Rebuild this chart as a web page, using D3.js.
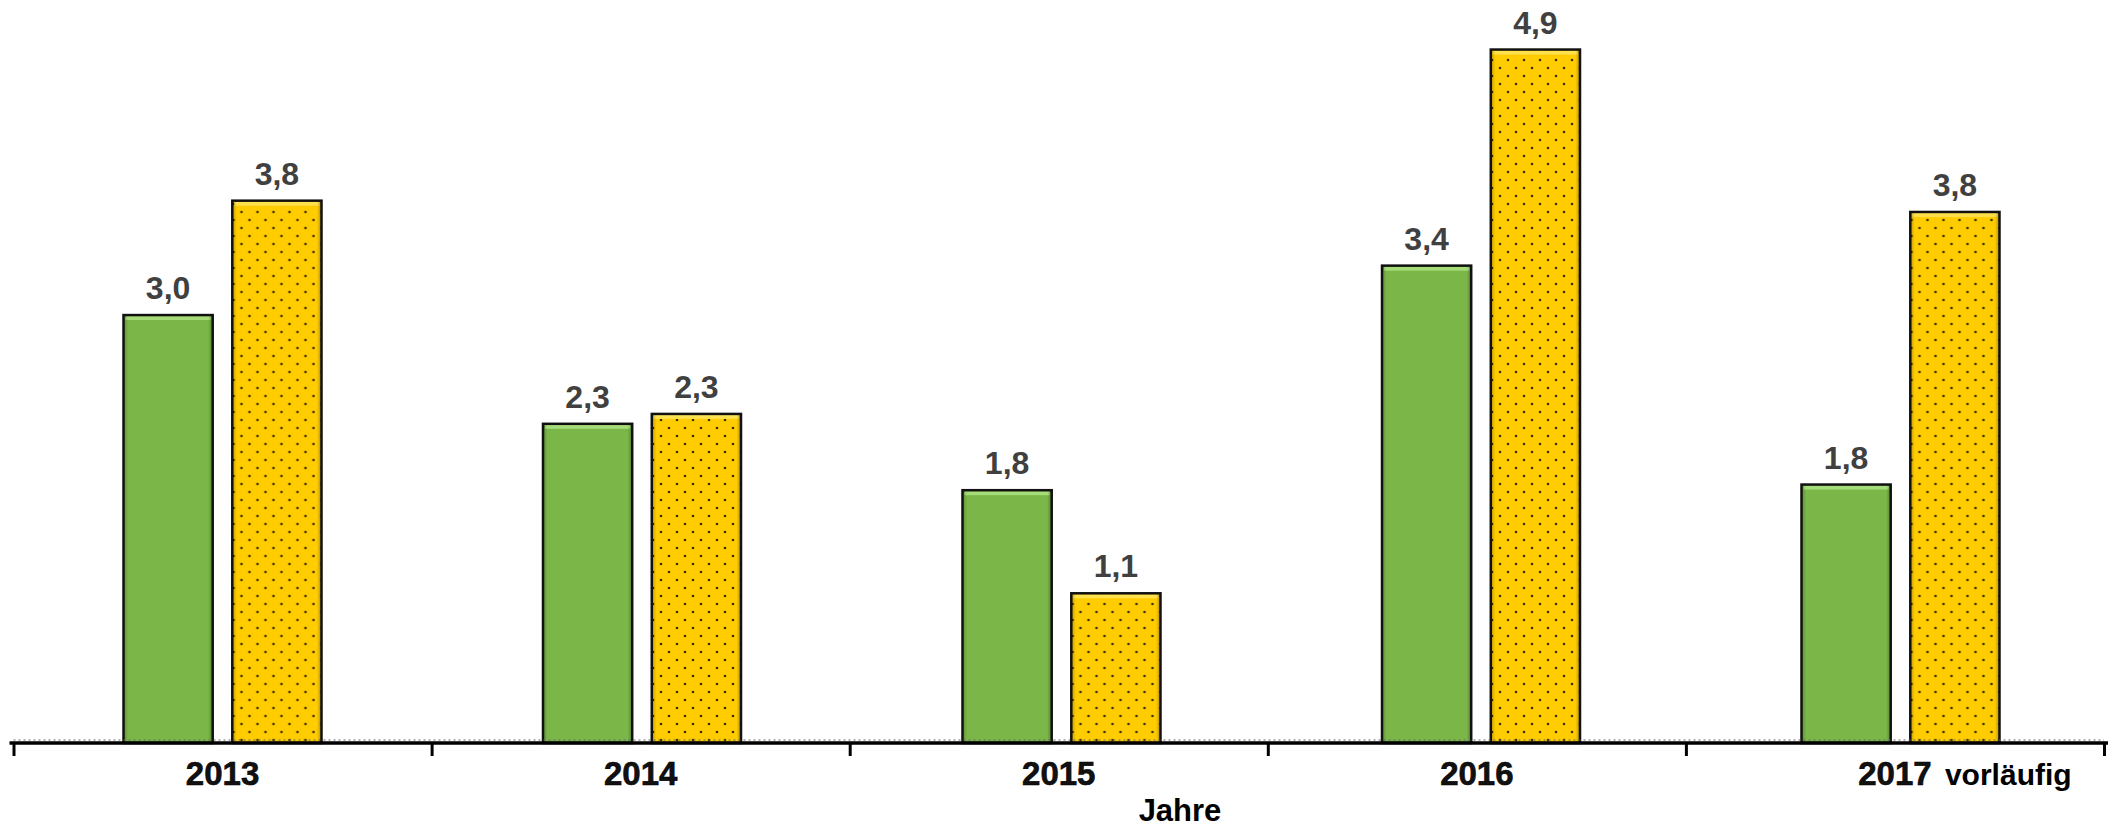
<!DOCTYPE html>
<html>
<head>
<meta charset="utf-8">
<script src="https://cdn.jsdelivr.net/npm/d3@7"></script>
<style>
  html, body { margin: 0; padding: 0; background: #fff; }
  svg { display: block; font-family: "Liberation Sans", Arial, sans-serif; }
</style>
</head>
<body>
<svg id="chart" width="2114" height="828"></svg>
<script>
// data
const years = ["2013", "2014", "2015", "2016", "2017"];
const yearNotes = ["", "", "", "", "vorläufig"];
const series = ["gruen", "gelb"];
const greenValues = [3.03, 2.26, 1.79, 3.38, 1.83];
const yellowValues = [3.84, 2.33, 1.06, 4.91, 3.76];
const axisTitle = "Jahre";

const width = 2114, height = 828;
const left = 13.5, right = 2104, baseY = 743;

const svg = d3.select("#chart");
const defs = svg.append("defs");

// dotted fill for the yellow bars
const pat = defs.append("pattern")
    .attr("id", "dots")
    .attr("patternUnits", "userSpaceOnUse")
    .attr("width", 16).attr("height", 16);
pat.append("rect").attr("width", 16).attr("height", 16).attr("fill", "#ffcc00");
pat.append("circle").attr("cx", 4).attr("cy", 4).attr("r", 1.3).attr("fill", "#3a3000");
pat.append("circle").attr("cx", 12).attr("cy", 12).attr("r", 1.3).attr("fill", "#3a3000");

// soft side shading for the bevel look
const sideGrad = defs.append("linearGradient").attr("id", "side")
    .attr("x1", "0").attr("x2", "1").attr("y1", "0").attr("y2", "0");
sideGrad.append("stop").attr("offset", "0").attr("stop-color", "#000").attr("stop-opacity", 0.25);
sideGrad.append("stop").attr("offset", "0.05").attr("stop-color", "#000").attr("stop-opacity", 0);
sideGrad.append("stop").attr("offset", "0.95").attr("stop-color", "#000").attr("stop-opacity", 0);
sideGrad.append("stop").attr("offset", "1").attr("stop-color", "#000").attr("stop-opacity", 0.3);

// category bands (axis) and a slightly wider band for the bars, as in the original
const x0 = d3.scaleBand().domain(years).range([left, right]).padding(0);
const xBars = d3.scaleBand().domain(years).range([left, left + 5 * 419.5]).padding(0);
const x1 = d3.scaleBand().domain(series).range([110, 308]).paddingInner(0.18);
const y = d3.scaleLinear().domain([0, 5.19]).range([baseY, 10]);

const fills = { gruen: "#7ab648", gelb: "url(#dots)" };
const highlights = { gruen: "#a6dc78", gelb: "#ffe14d" };

const rows = years.map((yr, i) => ({
    year: yr,
    bars: [
        { key: "gruen", value: greenValues[i] },
        { key: "gelb", value: yellowValues[i] }
    ]
}));

const fmt = v => d3.format(".1f")(v).replace(".", ",");

const groups = svg.append("g").selectAll("g")
    .data(rows)
    .join("g")
    .attr("transform", d => `translate(${xBars(d.year)},0)`);

const bar = groups.selectAll("g")
    .data(d => d.bars)
    .join("g");

bar.append("rect")
    .attr("x", d => x1(d.key))
    .attr("y", d => y(d.value))
    .attr("width", x1.bandwidth())
    .attr("height", d => baseY - y(d.value))
    .attr("fill", d => fills[d.key]);

// top highlight strip
bar.append("rect")
    .attr("x", d => x1(d.key) + 2)
    .attr("y", d => y(d.value) + 1)
    .attr("width", x1.bandwidth() - 4)
    .attr("height", 4)
    .attr("fill", d => highlights[d.key]);

bar.append("rect")
    .attr("x", d => x1(d.key))
    .attr("y", d => y(d.value))
    .attr("width", x1.bandwidth())
    .attr("height", d => baseY - y(d.value))
    .attr("fill", "url(#side)")
    .attr("stroke", "#111")
    .attr("stroke-width", 2.5);

bar.append("text")
    .attr("x", d => x1(d.key) + x1.bandwidth() / 2)
    .attr("y", d => y(d.value) - 16)
    .attr("text-anchor", "middle")
    .attr("font-size", 32)
    .attr("font-weight", "bold")
    .attr("fill", "#404040")
    .text(d => fmt(d.value));

// x axis: ticks sit on the category borders
const xb = d3.scaleLinear().domain([0, years.length]).range([left, right]);
const axis = svg.append("g")
    .attr("transform", `translate(0,${baseY})`)
    .call(d3.axisBottom(xb).ticks(years.length).tickSize(13).tickFormat(""));
axis.select(".domain").attr("stroke", "#000").attr("stroke-width", 3.5)
    .attr("d", `M${left - 4},0H${right + 4}`);
axis.selectAll(".tick line").attr("stroke", "#000").attr("stroke-width", 3);

svg.append("line")
    .attr("x1", left).attr("x2", right)
    .attr("y1", baseY - 3).attr("y2", baseY - 3)
    .attr("stroke", "#666").attr("stroke-width", 1)
    .attr("stroke-dasharray", "2,3");

// category labels
const labels = svg.append("g").selectAll("g")
    .data(years)
    .join("g");

labels.append("text")
    .attr("x", d => x0(d) + x0.bandwidth() / 2)
    .attr("y", 785)
    .attr("text-anchor", "middle")
    .attr("font-size", 33)
    .attr("font-weight", "bold")
    .attr("fill", "#111")
    .attr("stroke", "#000")
    .attr("stroke-width", 0.6)
    .text(d => d);

labels.append("text")
    .attr("x", d => x0(d) + x0.bandwidth() / 2 + 50)
    .attr("y", 785)
    .attr("text-anchor", "start")
    .attr("font-size", 30)
    .attr("font-weight", "bold")
    .attr("fill", "#000")
    .text((d, i) => yearNotes[i]);

svg.append("text")
    .attr("x", 1180)
    .attr("y", 821)
    .attr("text-anchor", "middle")
    .attr("font-size", 31)
    .attr("font-weight", "bold")
    .attr("fill", "#000")
    .text(axisTitle);
</script>
</body>
</html>
